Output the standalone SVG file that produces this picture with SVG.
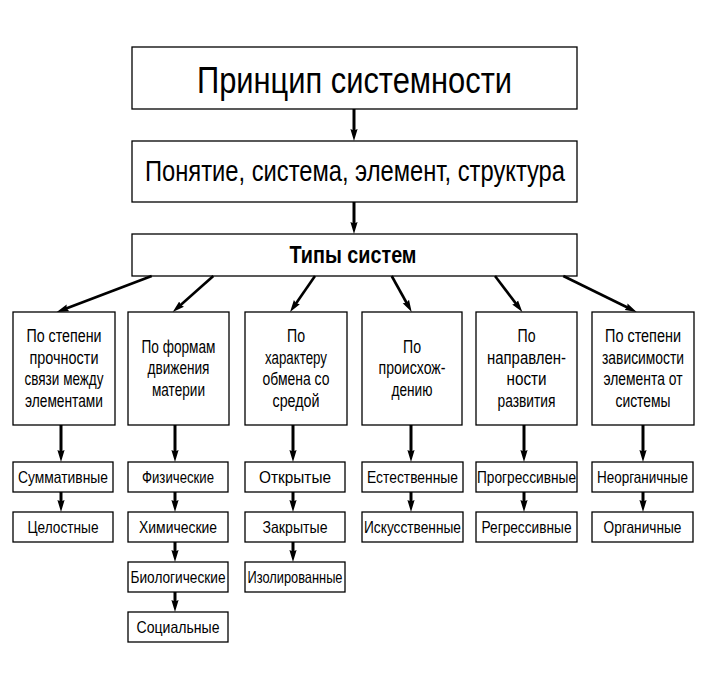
<svg xmlns="http://www.w3.org/2000/svg" width="708" height="681" viewBox="0 0 708 681">
<defs>
<style>
rect{fill:#fff;stroke:#000;stroke-width:1.3}
text{font-family:"Liberation Sans Narrow","Liberation Sans",Arial,sans-serif;fill:#000;text-anchor:middle}
.t1{font-size:37px}
.t2{font-size:29px}
.t3{font-size:23px;font-weight:bold}
.r2{font-size:17.5px}
.r3{font-size:16.5px}
#connectors line{stroke:#000;stroke-width:2.6;marker-end:url(#ah)}
#connectors line.v{stroke-width:3}
</style>
<marker id="ah" markerUnits="userSpaceOnUse" markerWidth="12" markerHeight="8" refX="4" refY="4" orient="auto" viewBox="0 0 12 8">
<path d="M0,0.4 L12,4 L0,7.6 L1.5,4 z" fill="#000"/>
</marker>
</defs>
<rect x="0" y="0" width="708" height="681" style="stroke:none"/>

<g id="n-principle"><rect x="132" y="47" width="445" height="62"/><text class="t1" x="354.5" y="93" textLength="315" lengthAdjust="spacingAndGlyphs">Принцип системности</text></g>
<g id="n-concept"><rect x="132" y="141" width="445" height="61"/><text class="t2" x="355" y="181" textLength="420" lengthAdjust="spacingAndGlyphs">Понятие, система, элемент, структура</text></g>
<g id="n-types"><rect x="132" y="234" width="445" height="42"/><text class="t3" x="353" y="263" textLength="127" lengthAdjust="spacingAndGlyphs">Типы систем</text></g>

<g id="n-c1"><rect x="13" y="312" width="102" height="113"/>
<text class="r2" x="64" y="342" textLength="75" lengthAdjust="spacingAndGlyphs">По степени</text>
<text class="r2" x="64" y="363.5" textLength="69" lengthAdjust="spacingAndGlyphs">прочности</text>
<text class="r2" x="64" y="385" textLength="79" lengthAdjust="spacingAndGlyphs">связи между</text>
<text class="r2" x="64" y="406.5" textLength="78" lengthAdjust="spacingAndGlyphs">элементами</text></g>
<g id="n-c2"><rect x="128" y="312" width="101" height="113"/>
<text class="r2" x="178.5" y="352.5" textLength="74" lengthAdjust="spacingAndGlyphs">По формам</text>
<text class="r2" x="178.5" y="374" textLength="62" lengthAdjust="spacingAndGlyphs">движения</text>
<text class="r2" x="178.5" y="395.5" textLength="53" lengthAdjust="spacingAndGlyphs">материи</text></g>
<g id="n-c3"><rect x="245" y="312" width="102" height="113"/>
<text class="r2" x="296" y="342" textLength="18" lengthAdjust="spacingAndGlyphs">По</text>
<text class="r2" x="296" y="363.5" textLength="62" lengthAdjust="spacingAndGlyphs">характеру</text>
<text class="r2" x="296" y="385" textLength="67" lengthAdjust="spacingAndGlyphs">обмена со</text>
<text class="r2" x="296" y="406.5" textLength="47" lengthAdjust="spacingAndGlyphs">средой</text></g>
<g id="n-c4"><rect x="362" y="312" width="100" height="113"/>
<text class="r2" x="412" y="352.5" textLength="18" lengthAdjust="spacingAndGlyphs">По</text>
<text class="r2" x="412" y="374" textLength="67" lengthAdjust="spacingAndGlyphs">происхож-</text>
<text class="r2" x="412" y="395.5" textLength="41" lengthAdjust="spacingAndGlyphs">дению</text></g>
<g id="n-c5"><rect x="476" y="312" width="101" height="113"/>
<text class="r2" x="526.5" y="342" textLength="18" lengthAdjust="spacingAndGlyphs">По</text>
<text class="r2" x="526.5" y="363.5" textLength="79" lengthAdjust="spacingAndGlyphs">направлен-</text>
<text class="r2" x="526.5" y="385" textLength="40" lengthAdjust="spacingAndGlyphs">ности</text>
<text class="r2" x="526.5" y="406.5" textLength="58" lengthAdjust="spacingAndGlyphs">развития</text></g>
<g id="n-c6"><rect x="592" y="312" width="102" height="113"/>
<text class="r2" x="643" y="342" textLength="76" lengthAdjust="spacingAndGlyphs">По степени</text>
<text class="r2" x="643" y="363.5" textLength="82" lengthAdjust="spacingAndGlyphs">зависимости</text>
<text class="r2" x="643" y="385" textLength="79" lengthAdjust="spacingAndGlyphs">элемента от</text>
<text class="r2" x="643" y="406.5" textLength="55" lengthAdjust="spacingAndGlyphs">системы</text></g>

<g id="n-summ"><rect x="13" y="462" width="100" height="30"/><text class="r3" x="63" y="483" textLength="90" lengthAdjust="spacingAndGlyphs">Суммативные</text></g>
<g id="n-tsel"><rect x="13" y="512" width="100" height="30"/><text class="r3" x="63" y="533" textLength="71" lengthAdjust="spacingAndGlyphs">Целостные</text></g>
<g id="n-fiz"><rect x="128" y="462" width="100" height="30"/><text class="r3" x="178" y="483" textLength="72" lengthAdjust="spacingAndGlyphs">Физические</text></g>
<g id="n-khim"><rect x="128" y="512" width="100" height="30"/><text class="r3" x="178" y="533" textLength="78" lengthAdjust="spacingAndGlyphs">Химические</text></g>
<g id="n-bio"><rect x="128" y="562" width="100" height="30"/><text class="r3" x="178" y="583" textLength="95" lengthAdjust="spacingAndGlyphs">Биологические</text></g>
<g id="n-soc"><rect x="128" y="612" width="100" height="30"/><text class="r3" x="178" y="633" textLength="83" lengthAdjust="spacingAndGlyphs">Социальные</text></g>
<g id="n-otkr"><rect x="245" y="462" width="100" height="30"/><text class="r3" x="295" y="483" textLength="72" lengthAdjust="spacingAndGlyphs">Открытые</text></g>
<g id="n-zakr"><rect x="245" y="512" width="100" height="30"/><text class="r3" x="295" y="533" textLength="65" lengthAdjust="spacingAndGlyphs">Закрытые</text></g>
<g id="n-izol"><rect x="245" y="562" width="100" height="30"/><text class="r3" x="295" y="583" textLength="95" lengthAdjust="spacingAndGlyphs">Изолированные</text></g>
<g id="n-est"><rect x="362" y="462" width="101" height="30"/><text class="r3" x="412.5" y="483" textLength="91" lengthAdjust="spacingAndGlyphs">Естественные</text></g>
<g id="n-isk"><rect x="362" y="512" width="101" height="30"/><text class="r3" x="412.5" y="533" textLength="97" lengthAdjust="spacingAndGlyphs">Искусственные</text></g>
<g id="n-prog"><rect x="476" y="462" width="101" height="30"/><text class="r3" x="526.5" y="483" textLength="99" lengthAdjust="spacingAndGlyphs">Прогрессивные</text></g>
<g id="n-regr"><rect x="476" y="512" width="101" height="30"/><text class="r3" x="526.5" y="533" textLength="90" lengthAdjust="spacingAndGlyphs">Регрессивные</text></g>
<g id="n-neorg"><rect x="592" y="462" width="101" height="30"/><text class="r3" x="642.5" y="483" textLength="91" lengthAdjust="spacingAndGlyphs">Неорганичные</text></g>
<g id="n-org"><rect x="592" y="512" width="101" height="30"/><text class="r3" x="642.5" y="533" textLength="78" lengthAdjust="spacingAndGlyphs">Органичные</text></g>

<g id="connectors">
<line class="v" x1="354" y1="109" x2="354" y2="133"/>
<line class="v" x1="354" y1="202" x2="354" y2="226"/>
<line x1="151.7" y1="276" x2="64.2" y2="309.2"/>
<line x1="213.3" y1="276" x2="178.7" y2="306.7"/>
<line x1="315" y1="276" x2="294.6" y2="305.4"/>
<line x1="391.7" y1="276" x2="407.8" y2="305"/>
<line x1="495" y1="276" x2="517.5" y2="305.6"/>
<line x1="563.3" y1="276" x2="629.5" y2="308.5"/>
<line class="v" x1="61" y1="425" x2="61" y2="454"/>
<line class="v" x1="175" y1="425" x2="175" y2="454"/>
<line class="v" x1="293" y1="425" x2="293" y2="454"/>
<line class="v" x1="411" y1="425" x2="411" y2="454"/>
<line class="v" x1="524" y1="425" x2="524" y2="454"/>
<line class="v" x1="643" y1="425" x2="643" y2="454"/>
<line class="v" x1="61" y1="492" x2="61" y2="504"/>
<line class="v" x1="175" y1="492" x2="175" y2="504"/>
<line class="v" x1="175" y1="542" x2="175" y2="554"/>
<line class="v" x1="175" y1="592" x2="175" y2="604"/>
<line class="v" x1="293" y1="492" x2="293" y2="504"/>
<line class="v" x1="293" y1="542" x2="293" y2="554"/>
<line class="v" x1="411" y1="492" x2="411" y2="504"/>
<line class="v" x1="524" y1="492" x2="524" y2="504"/>
<line class="v" x1="643" y1="492" x2="643" y2="504"/>
</g>
</svg>
